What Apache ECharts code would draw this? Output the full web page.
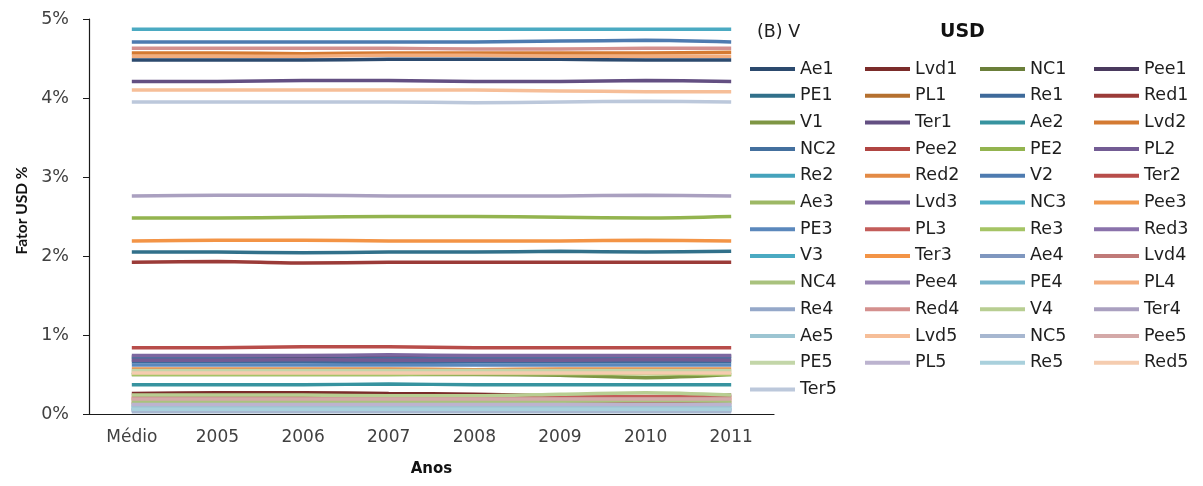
<!DOCTYPE html>
<html>
<head>
<meta charset="utf-8">
<script src="https://cdn.jsdelivr.net/npm/echarts@6/dist/echarts.min.js"></script>
<style>
  html, body { margin: 0; padding: 0; background: #fff; }
  #chart { width: 1203px; height: 486px; }
</style>
</head>
<body>
<div id="chart"></div>
<script>
// Categories on the x axis
const categories = ['Médio', '2005', '2006', '2007', '2008', '2009', '2010', '2011'];
const yTicks = [0, 1, 2, 3, 4, 5];

// USD factor (%) per scenario, one array per series
const Ae1  = [4.48, 4.48, 4.48, 4.49, 4.49, 4.49, 4.48, 4.48];
const Lvd1 = [0.26, 0.27, 0.27, 0.26, 0.25, 0.23, 0.20, 0.24];
const NC1  = [0.13, 0.13, 0.12, 0.13, 0.13, 0.14, 0.15, 0.14];
const Pee1 = [0.72, 0.72, 0.73, 0.73, 0.73, 0.72, 0.73, 0.73];
const PE1  = [2.05, 2.05, 2.04, 2.05, 2.05, 2.06, 2.05, 2.06];
const PL1  = [0.18, 0.18, 0.18, 0.17, 0.18, 0.18, 0.18, 0.18];
const Re1  = [0.66, 0.66, 0.66, 0.65, 0.66, 0.66, 0.66, 0.66];
const Red1 = [1.92, 1.93, 1.91, 1.92, 1.92, 1.92, 1.92, 1.92];
const V1   = [0.50, 0.50, 0.50, 0.50, 0.50, 0.49, 0.46, 0.50];
const Ter1 = [4.21, 4.21, 4.22, 4.22, 4.21, 4.21, 4.22, 4.21];
const Ae2  = [0.37, 0.37, 0.37, 0.38, 0.37, 0.37, 0.37, 0.37];
const Lvd2 = [4.57, 4.57, 4.56, 4.57, 4.57, 4.57, 4.57, 4.58];
const NC2  = [0.70, 0.70, 0.69, 0.70, 0.70, 0.70, 0.70, 0.70];
const Pee2 = [0.15, 0.15, 0.15, 0.15, 0.15, 0.16, 0.16, 0.15];
const PE2  = [2.48, 2.48, 2.49, 2.50, 2.50, 2.49, 2.48, 2.50];
const PL2  = [0.68, 0.68, 0.69, 0.68, 0.68, 0.68, 0.69, 0.68];
const Re2  = [0.05, 0.05, 0.05, 0.05, 0.05, 0.05, 0.05, 0.05];
const Red2 = [0.57, 0.57, 0.57, 0.57, 0.56, 0.57, 0.57, 0.57];
const V2   = [4.71, 4.71, 4.71, 4.71, 4.71, 4.72, 4.73, 4.71];
const Ter2 = [0.84, 0.84, 0.85, 0.85, 0.84, 0.84, 0.84, 0.84];
const Ae3  = [0.53, 0.53, 0.53, 0.53, 0.53, 0.53, 0.52, 0.53];
const Lvd3 = [0.74, 0.74, 0.74, 0.75, 0.74, 0.74, 0.74, 0.74];
const NC3  = [0.09, 0.09, 0.09, 0.09, 0.09, 0.09, 0.09, 0.09];
const Pee3 = [0.20, 0.20, 0.20, 0.20, 0.21, 0.21, 0.21, 0.20];
const PE3  = [0.62, 0.62, 0.62, 0.62, 0.62, 0.62, 0.62, 0.62];
const PL3  = [0.22, 0.22, 0.22, 0.22, 0.22, 0.22, 0.22, 0.22];
const Re3  = [0.50, 0.50, 0.50, 0.50, 0.51, 0.51, 0.51, 0.50];
const Red3 = [0.11, 0.11, 0.11, 0.11, 0.11, 0.11, 0.11, 0.11];
const V3   = [4.87, 4.87, 4.87, 4.87, 4.87, 4.87, 4.87, 4.87];
const Ter3 = [2.19, 2.20, 2.20, 2.19, 2.19, 2.19, 2.20, 2.19];
const Ae4  = [0.07, 0.07, 0.07, 0.07, 0.07, 0.07, 0.07, 0.07];
const Lvd4 = [0.20, 0.20, 0.19, 0.19, 0.19, 0.19, 0.19, 0.20];
const NC4  = [0.16, 0.16, 0.16, 0.16, 0.16, 0.16, 0.17, 0.16];
const Pee4 = [0.05, 0.05, 0.05, 0.05, 0.05, 0.05, 0.05, 0.05];
const PE4  = [0.10, 0.10, 0.10, 0.10, 0.10, 0.10, 0.10, 0.10];
const PL4  = [4.53, 4.53, 4.53, 4.54, 4.54, 4.53, 4.53, 4.53];
const Re4  = [0.04, 0.04, 0.04, 0.04, 0.04, 0.04, 0.04, 0.04];
const Red4 = [4.63, 4.63, 4.63, 4.63, 4.62, 4.62, 4.63, 4.63];
const V4   = [0.24, 0.24, 0.24, 0.23, 0.23, 0.25, 0.27, 0.24];
const Ter4 = [2.76, 2.77, 2.77, 2.76, 2.76, 2.76, 2.77, 2.76];
const Ae5  = [0.08, 0.08, 0.08, 0.08, 0.08, 0.08, 0.08, 0.08];
const Lvd5 = [4.10, 4.10, 4.10, 4.10, 4.10, 4.09, 4.08, 4.08];
const NC5  = [0.03, 0.03, 0.03, 0.03, 0.03, 0.03, 0.03, 0.03];
const Pee5 = [0.19, 0.19, 0.19, 0.19, 0.19, 0.19, 0.19, 0.19];
const PE5  = [0.55, 0.55, 0.55, 0.55, 0.55, 0.55, 0.55, 0.55];
const PL5  = [0.12, 0.12, 0.12, 0.12, 0.12, 0.12, 0.12, 0.12];
const Re5  = [0.06, 0.06, 0.06, 0.06, 0.06, 0.06, 0.06, 0.06];
const Red5 = [0.52, 0.52, 0.52, 0.52, 0.52, 0.52, 0.52, 0.52];
const Ter5 = [3.95, 3.95, 3.95, 3.95, 3.94, 3.95, 3.96, 3.95];

// Series in legend order (row by row, four per row)
const seriesNames = [
  'Ae1', 'Lvd1', 'NC1', 'Pee1', 'PE1', 'PL1', 'Re1', 'Red1', 'V1', 'Ter1',
  'Ae2', 'Lvd2', 'NC2', 'Pee2', 'PE2', 'PL2', 'Re2', 'Red2', 'V2', 'Ter2',
  'Ae3', 'Lvd3', 'NC3', 'Pee3', 'PE3', 'PL3', 'Re3', 'Red3', 'V3', 'Ter3',
  'Ae4', 'Lvd4', 'NC4', 'Pee4', 'PE4', 'PL4', 'Re4', 'Red4', 'V4', 'Ter4',
  'Ae5', 'Lvd5', 'NC5', 'Pee5', 'PE5', 'PL5', 'Re5', 'Red5', 'Ter5'
];
const seriesValues = [
  Ae1, Lvd1, NC1, Pee1, PE1, PL1, Re1, Red1, V1, Ter1,
  Ae2, Lvd2, NC2, Pee2, PE2, PL2, Re2, Red2, V2, Ter2,
  Ae3, Lvd3, NC3, Pee3, PE3, PL3, Re3, Red3, V3, Ter3,
  Ae4, Lvd4, NC4, Pee4, PE4, PL4, Re4, Red4, V4, Ter4,
  Ae5, Lvd5, NC5, Pee5, PE5, PL5, Re5, Red5, Ter5
];

// Office-style palette: dark shades first, then accents, then tints
const palette = [
  '#2c4a6e', '#7b2c2a', '#6b7f3a', '#4a3a5e',
  '#31708a', '#b5702f', '#3e6a9a', '#9b3b38',
  '#7e9644', '#634f82', '#37939f', '#d47a32',
  '#44709e', '#b04542', '#93b44f', '#735c94',
  '#45a3bc', '#e38a45', '#4e7bb0', '#b84d4a',
  '#9db865', '#7d67a0', '#4fb0c7', '#f0994e',
  '#5b88bc', '#c35d5a', '#a5c465', '#8a72ab',
  '#4baac2', '#f39446', '#7f97bf', '#c07a78',
  '#a9c27d', '#9784b3', '#76b5cb', '#f3ad7d',
  '#95a8c9', '#d4908e', '#b8ce92', '#aaa0c0',
  '#9cc5d2', '#f6be98', '#a7b7d0', '#d4a9a8',
  '#c3d6a8', '#bcb3cf', '#a9d0dc', '#f5ccaf',
  '#bcc8db'
];

const FONT = '"DejaVu Sans", sans-serif';
const chart = echarts.init(document.getElementById('chart'), null, { renderer: 'canvas' });

const series = seriesNames.map((name, i) => ({
  name: name,
  type: 'line',
  data: seriesValues[i],
  smooth: 0.3,
  symbol: 'none',
  color: palette[i],
  lineStyle: { width: 3.5, color: palette[i] },
  emphasis: { disabled: true },
  animation: false
}));

// four vertical legend columns so that the items line up in a grid
const colLeft = [750, 865, 980, 1094];
const legends = colLeft.map((left, c) => ({
  orient: 'vertical',
  left: left,
  top: 60,
  padding: 0,
  icon: 'rect',
  itemWidth: 45,
  itemHeight: 4,
  itemGap: 8.7,
  selectedMode: false,
  data: seriesNames.filter((_, i) => i % 4 === c),
  textStyle: { fontFamily: FONT, fontSize: 17.5, color: '#1e1e1e' }
}));

chart.setOption({
  backgroundColor: '#fff',
  animation: false,
  title: [
    { text: '(B) V', left: 752, top: 18, textStyle: { fontFamily: FONT, fontSize: 17.5, fontWeight: 'normal', color: '#1e1e1e' } },
    { text: 'USD', left: 935, top: 18, textStyle: { fontFamily: FONT, fontSize: 19, fontWeight: 'bold', color: '#111' } }
  ],
  legend: legends,
  grid: { left: 89, right: 429, top: 19, bottom: 72, containLabel: false },
  xAxis: {
    type: 'category',
    data: categories,
    boundaryGap: true,
    name: 'Anos',
    nameLocation: 'middle',
    nameGap: 48,
    nameTextStyle: { fontFamily: FONT, fontSize: 15, fontWeight: 'bold', color: '#111' },
    axisLine: { lineStyle: { color: '#1a1a1a', width: 1.2 } },
    axisTick: { alignWithLabel: true, length: 6, lineStyle: { color: '#1a1a1a' } },
    axisLabel: { fontFamily: FONT, fontSize: 17, color: '#404040', margin: 15 },
    splitLine: { show: false }
  },
  yAxis: {
    type: 'value',
    min: yTicks[0],
    max: yTicks[yTicks.length - 1],
    interval: 1,
    name: 'Fator USD %',
    nameLocation: 'middle',
    nameGap: 58,
    nameTextStyle: { fontFamily: 'Lato, sans-serif', fontSize: 15.5, fontWeight: 'bold', color: '#111', padding: [0, 0, 0, 12] },
    axisLine: { show: true, lineStyle: { color: '#1a1a1a', width: 1.2 } },
    axisTick: { show: true, length: 6, lineStyle: { color: '#1a1a1a' } },
    axisLabel: { fontFamily: FONT, fontSize: 17.5, color: '#404040', margin: 20, formatter: v => v + '%' },
    splitLine: { show: false }
  },
  series: series
});
</script>
</body>
</html>
